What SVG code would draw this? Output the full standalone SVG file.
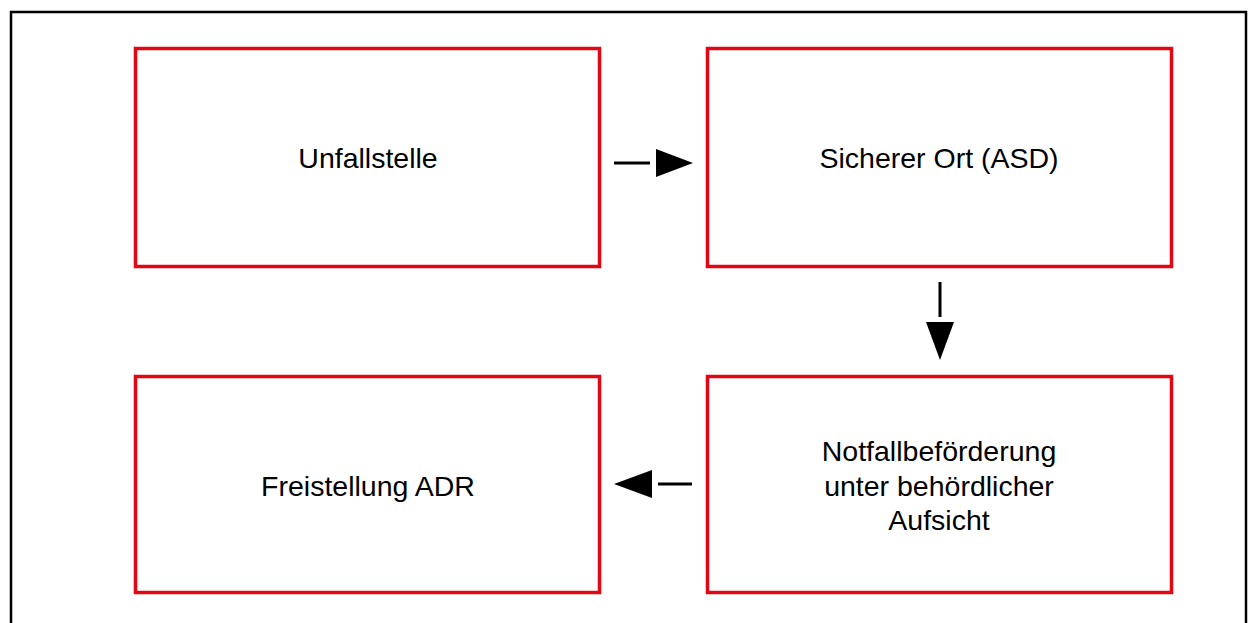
<svg xmlns="http://www.w3.org/2000/svg" width="1253" height="623" viewBox="0 0 1253 623">
<style>
.box{fill:#fff;stroke:#e30613;stroke-width:3.5}
.t{font-family:"Liberation Sans",Arial,sans-serif;font-size:28.5px;fill:#000;text-anchor:middle}
.ln{stroke:#000;stroke-width:3;fill:none}
.hd{fill:#000}
</style>
<rect x="0" y="0" width="1253" height="623" fill="#fff"/>
<path d="M11,625 V12 H1246 V625" fill="none" stroke="#000" stroke-width="2.5"/>
<g id="n1"><rect class="box" x="135.5" y="48.5" width="464" height="218"/><text class="t" x="368" y="168">Unfallstelle</text></g>
<g id="n2"><rect class="box" x="707.5" y="48.5" width="464" height="218"/><text class="t" x="939" y="168">Sicherer Ort (ASD)</text></g>
<g id="n3"><rect class="box" x="707.5" y="376.5" width="464" height="216"/><text class="t" x="939" y="461">Notfallbeförderung</text><text class="t" x="939" y="496">unter behördlicher</text><text class="t" x="939" y="530">Aufsicht</text></g>
<g id="n4"><rect class="box" x="135.5" y="376.5" width="464" height="216"/><text class="t" x="368" y="496">Freistellung ADR</text></g>
<g id="connectors">
<line class="ln" x1="614" y1="163" x2="650" y2="163"/><polygon class="hd" points="656,149 693,163 656,177"/>
<line class="ln" x1="940" y1="282" x2="940" y2="317"/><polygon class="hd" points="926,322 954,322 940,360"/>
<line class="ln" x1="658" y1="484" x2="692" y2="484"/><polygon class="hd" points="652,470 614,484 652,498"/>
</g>
</svg>
